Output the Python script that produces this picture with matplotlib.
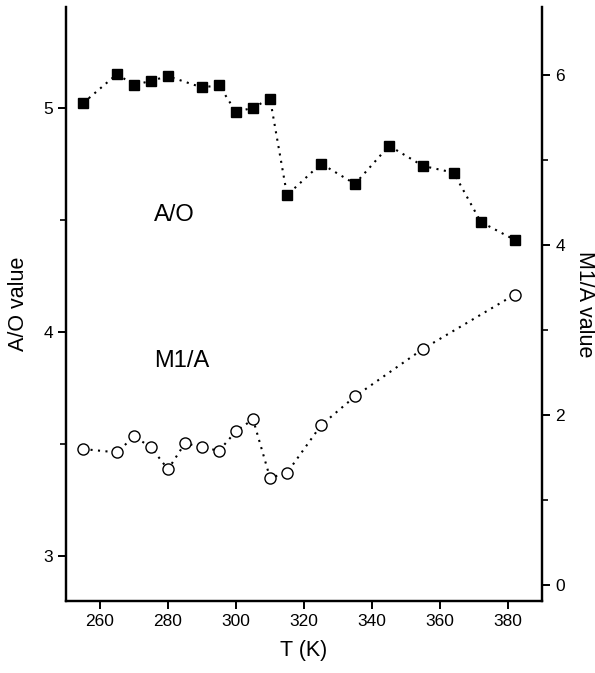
import matplotlib
matplotlib.use("Agg")
import matplotlib.pyplot as plt
from matplotlib.ticker import MultipleLocator

plt.rcParams['font.family'] = ['Liberation Sans', 'DejaVu Sans']

# A/O ratio vs temperature
t_ao = [255, 265, 270, 275, 280, 290, 295, 300, 305, 310, 315,
        325, 335, 345, 355, 364, 372, 382]
ao = [5.02, 5.15, 5.10, 5.12, 5.14, 5.09, 5.10, 4.98, 5.00, 5.04, 4.61,
      4.75, 4.66, 4.83, 4.74, 4.71, 4.49, 4.41]

# M1/A ratio vs temperature
t_m1a = [255, 265, 270, 275, 280, 285, 290, 295, 300, 305, 310, 315,
         325, 335, 355, 382]
m1a = [1.60, 1.56, 1.75, 1.62, 1.36, 1.67, 1.62, 1.58, 1.81, 1.95, 1.26, 1.32,
       1.88, 2.22, 2.78, 3.42]

dots = (0, (1, 2.6))

fig = plt.figure(figsize=(5.95, 6.73), dpi=100)
ax = fig.add_axes([0.111, 0.107, 0.800, 0.883])
ax2 = ax.twinx()

ax.plot(t_ao, ao, color='black', linestyle=dots, lw=1.5,
        marker='s', ms=7.8, mfc='black', mec='black')
ax2.plot(t_m1a, m1a, color='black', linestyle=dots, lw=1.5,
         marker='o', ms=8, mfc='white', mec='black', mew=1.0)

ax.set_xlim(250, 390)
ax.set_ylim(2.80, 5.45)
ax2.set_ylim(-0.19, 6.81)

ax.xaxis.set_major_locator(MultipleLocator(20))
ax.yaxis.set_major_locator(MultipleLocator(1))
ax.yaxis.set_minor_locator(MultipleLocator(0.5))
ax2.yaxis.set_major_locator(MultipleLocator(2))
ax2.yaxis.set_minor_locator(MultipleLocator(1))

for a in (ax, ax2):
    a.spines['top'].set_visible(False)
    for s in ('left', 'right', 'bottom'):
        a.spines[s].set_linewidth(1.6)
    a.tick_params(which='major', direction='out', length=6, width=1.4, labelsize=12.5)
    a.tick_params(which='minor', direction='out', length=4, width=1.2)

ax.set_xlabel('T (K)', fontsize=15.5, labelpad=8)
ax.set_ylabel('A/O value', fontsize=15.5, labelpad=10)
ax2.set_ylabel('M1/A value', fontsize=15.5, rotation=-90, labelpad=22)

ax.text(276, 4.52, 'A/O', fontsize=17, ha='left', va='center')
ax.text(276, 3.87, 'M1/A', fontsize=17, ha='left', va='center')

fig.savefig('out.png', dpi=100)
